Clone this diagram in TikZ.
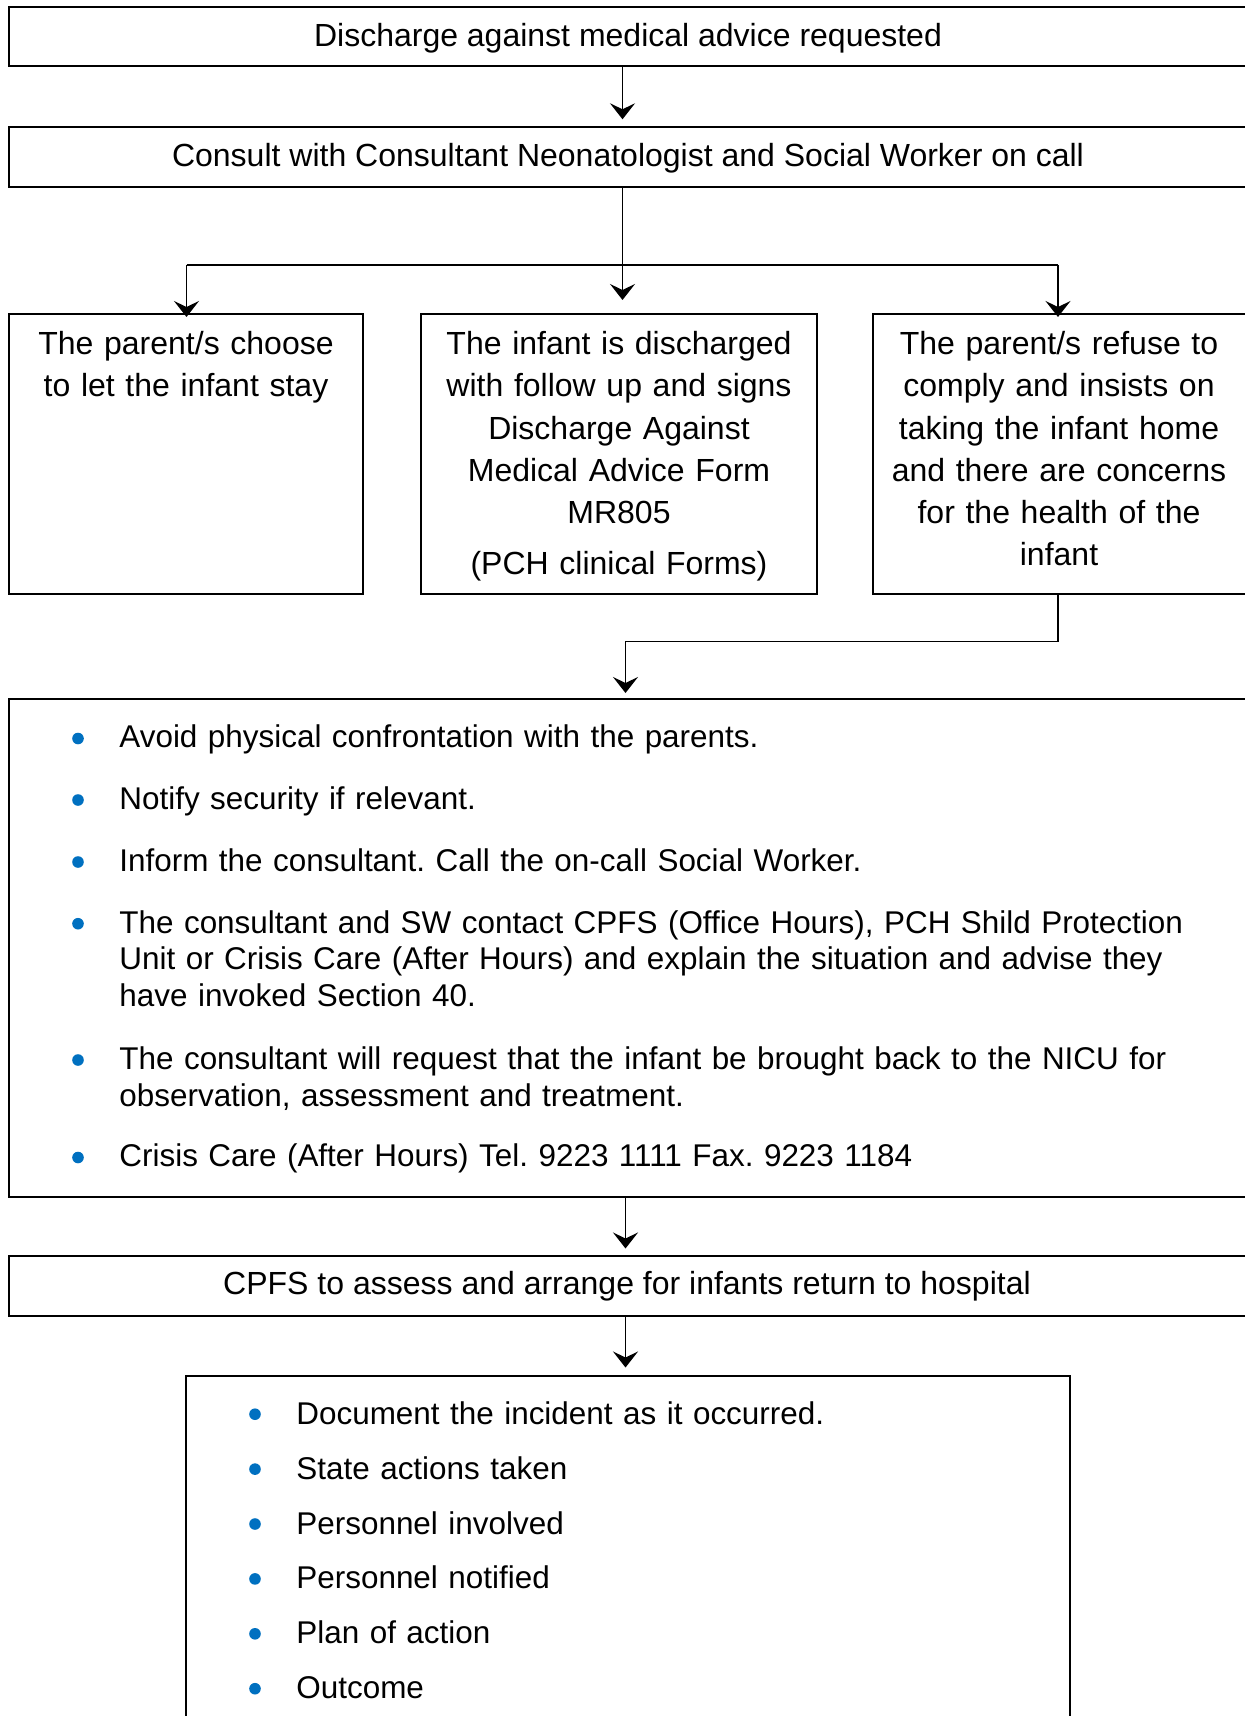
\documentclass[tikz,border=0pt]{standalone}
\usepackage{fontspec}
\setmainfont{Liberation Sans}
\usetikzlibrary{arrows.meta,calc,fit}
\definecolor{bulletblue}{HTML}{0070C0}
\frenchspacing
\tikzset{
  box/.style={draw=black, line width=1pt, inner sep=0pt, outer sep=0pt},
  conn/.style={draw=black, line width=0.65pt},
  arr/.style={conn, -{Stealth[length=8pt,width=12.5pt,inset=3pt]}},
  oneline/.style={font=\fontsize{16}{19}\selectfont, inner sep=0pt, anchor=base},
  para/.style={font=\fontsize{16}{21.15}\selectfont, inner sep=0pt, anchor=north, align=center, text width=260pt},
  item/.style={font=\fontsize{15.72}{18.35}\selectfont, inner sep=0pt, anchor=north west, align=left, text width=570pt},
  bul/.style={circle, fill=bulletblue, draw=none, inner sep=0pt, minimum size=5.8pt},
}
\begin{document}
\begin{tikzpicture}[x=0.5pt,y=-0.5pt]
\useasboundingbox (0,0) rectangle (1245,1716);

% boxes
\node[box, fit={(9,7.5) (1252,66.5)}] (b1) {};
\node[box, fit={(9,126.7) (1252,186.7)}] (b2) {};
\node[box, fit={(9,314) (363,594)}] (bL) {};
\node[box, fit={(421,314) (817,594)}] (bM) {};
\node[box, fit={(873,314) (1252,594)}] (bR) {};
\node[box, fit={(9,699) (1252,1196.5)}] (bBig) {};
\node[box, fit={(9,1256) (1252,1315.7)}] (bC) {};
\node[box, fit={(186,1376) (1070,1730)}] (bLast) {};

% texts
\node[oneline] (t1) at (628,46.5) {Discharge against medical advice requested};
\node[oneline] (t2) at (628,166.5) {Consult with Consultant Neonatologist and Social Worker on call};
\node[para] (tL) at (186,324.4) {\strut The parent/s choose\\to let the infant stay};
\node[para] (tM) at (619,324.4) {\strut The infant is discharged\\with follow up and signs\\Discharge Against\\Medical Advice Form\\MR805\\[4.25pt](PCH clinical Forms)};
\node[para] (tR) at (1059,324.4) {\strut The parent/s refuse to\\comply and insists on\\taking the infant home\\and there are concerns\\for the health of the\\infant};
\node[oneline] (tC) at (627,1294.5) {CPFS to assess and arrange for infants return to hospital};

% big box items
\node[item] (i1) at (119,721.8) {\strut Avoid physical confrontation with the parents.};
\node[item] (i2) at (119,783.3) {\strut Notify security if relevant.};
\node[item] (i3) at (119,845.3) {\strut Inform the consultant. Call the on-call Social Worker.};
\node[item] (i4) at (119,907) {\strut The consultant and SW contact CPFS (Office Hours), PCH Shild Protection\\Unit or Crisis Care (After Hours) and explain the situation and advise they\\have invoked Section 40.};
\node[item] (i5) at (119,1043.3) {\strut The consultant will request that the infant be brought back to the NICU for\\observation, assessment and treatment.};
\node[item] (i6) at (119,1140.8) {\strut Crisis Care (After Hours) Tel. 9223 1111 Fax. 9223 1184};
\node[bul] (d1) at (78,738.5) {};
\node[bul] (d2) at (78,800) {};
\node[bul] (d3) at (78,862) {};
\node[bul] (d4) at (78,923.7) {};
\node[bul] (d5) at (78,1060) {};
\node[bul] (d6) at (78,1157.5) {};

% last box items
\node[item] (k1) at (296,1398.1) {\strut Document the incident as it occurred.};
\node[item] (k2) at (296,1453.0) {\strut State actions taken};
\node[item] (k3) at (296,1507.9) {\strut Personnel involved};
\node[item] (k4) at (296,1562.8) {\strut Personnel notified};
\node[item] (k5) at (296,1617.7) {\strut Plan of action};
\node[item] (k6) at (296,1672.6) {\strut Outcome};
\node[bul] (e1) at (255,1414.2) {};
\node[bul] (e2) at (255,1469.1) {};
\node[bul] (e3) at (255,1524.0) {};
\node[bul] (e4) at (255,1578.9) {};
\node[bul] (e5) at (255,1633.8) {};
\node[bul] (e6) at (255,1688.7) {};

% connectors
\coordinate (xA) at (622.5,0);
\coordinate (xB) at (625.5,0);
\coordinate (jM) at (622.5,265);
\coordinate (jL) at (186.5,265);
\coordinate (jR) at (1058,265);
\coordinate (yK) at (0,641.7);

\draw[arr, shorten >=3.7pt] (b1.south -| xA) -- (b2.north -| xA);
\draw[conn] (b2.south -| xA) -- (jM);
\draw[conn] (jL) -- (jR);
\draw[arr, shorten >=7pt] (jM) -- (bM.north -| jM);
\draw[arr, shorten >=-1.5pt] (jL) -- (bL.north -| jL);
\draw[arr, shorten >=-1.5pt] (jR) -- (bR.north -| jR);
\draw[arr, shorten >=3pt] (bR.south -| jR) |- (xB |- yK) -- (bBig.north -| xB);
\draw[arr, shorten >=3.75pt] (bBig.south -| xB) -- (bC.north -| xB);
\draw[arr, shorten >=4.25pt] (bC.south -| xB) -- (bLast.north -| xB);
\end{tikzpicture}
\end{document}
